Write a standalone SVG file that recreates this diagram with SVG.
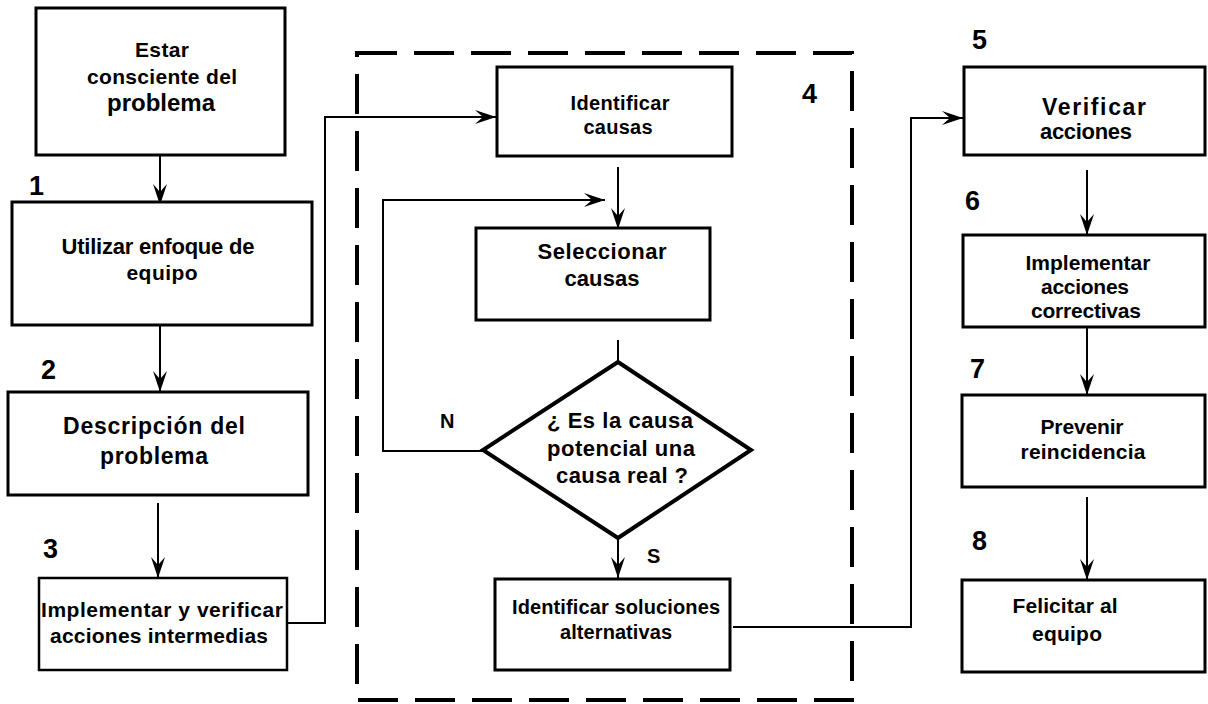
<svg xmlns="http://www.w3.org/2000/svg" width="1208" height="704" viewBox="0 0 1208 704">
  <defs>
    <marker id="arrow" viewBox="-22 -8 24 16" refX="0" refY="0" markerWidth="24" markerHeight="16" markerUnits="userSpaceOnUse" orient="auto">
      <path d="M0,0 L-21,-7 L-13,0 L-21,7 Z" fill="#000"/>
    </marker>
  </defs>
  <style>
    .box { fill: #fff; stroke: #000; stroke-width: 3; }
    .thin { stroke-width: 2.5; }
    .dec { fill: #fff; stroke: #000; stroke-width: 4; stroke-linejoin: miter; }
    .frame { fill: none; stroke: #000; stroke-width: 4; stroke-dasharray: 40 17; }
    .link { fill: none; stroke: #000; stroke-width: 2; }
    .arr { marker-end: url(#arrow); }
    text { font-family: "Liberation Sans", Arial, sans-serif; font-weight: bold; fill: #000; }
    .t { font-size: 22px; text-anchor: middle; }
    .num { font-size: 27px; }
    .lbl { font-size: 20px; }
  </style>
  <rect width="1208" height="704" fill="#fff"/>

  <!-- dashed frame around step 4 -->
  <rect class="frame" x="357" y="53" width="495" height="647"/>

  <!-- connectors -->
  <g id="connectors">
    <path class="link arr" d="M160,155 V205"/>
    <path class="link arr" d="M160,325 V392"/>
    <path class="link arr" d="M158,503 V578"/>
    <path class="link arr" d="M287,623 H325 V117 H496"/>
    <path class="link arr" d="M618,167 V229"/>
    <path class="link" d="M618,340 V362"/>
    <path class="link arr" d="M483,451 H383 V200 H605"/>
    <path class="link arr" d="M618,538 V578"/>
    <path class="link arr" d="M733,627 H911 V118 H963"/>
    <path class="link arr" d="M1087,170 V235"/>
    <path class="link arr" d="M1087,327 V395"/>
    <path class="link arr" d="M1087,497 V580"/>
  </g>

  <!-- step labels -->
  <g id="labels">
    <text class="num" x="29" y="195">1</text>
    <text class="num" x="41" y="379">2</text>
    <text class="num" x="43" y="558">3</text>
    <text class="num" x="802" y="103">4</text>
    <text class="num" x="972" y="49">5</text>
    <text class="num" x="965" y="210">6</text>
    <text class="num" x="970" y="378">7</text>
    <text class="num" x="972" y="550">8</text>
    <text class="lbl" x="440" y="428">N</text>
    <text class="lbl" x="647" y="563">S</text>
  </g>

  <g id="node-consciente">
    <rect class="box" x="36" y="8" width="249" height="147"/>
    <text class="t" x="162" y="57" style="font-size:21px" textLength="54">Estar</text>
    <text class="t" x="162" y="84" style="font-size:21px" textLength="150">consciente del</text>
    <text class="t" x="161" y="111" style="font-size:24px" textLength="108">problema</text>
  </g>

  <g id="node-equipo">
    <rect class="box" x="12" y="202" width="300" height="123"/>
    <text class="t" x="158" y="254" textLength="193">Utilizar enfoque de</text>
    <text class="t" x="162" y="280" style="font-size:21px" textLength="71">equipo</text>
  </g>

  <g id="node-descripcion">
    <rect class="box" x="8" y="392" width="300" height="103"/>
    <text class="t" x="154" y="434" style="font-size:23px" textLength="182">Descripción del</text>
    <text class="t" x="154" y="464" style="font-size:23px" textLength="108">problema</text>
  </g>

  <g id="node-intermedias">
    <rect class="box thin" x="39" y="578" width="248" height="92"/>
    <text class="t" x="162" y="617" style="font-size:21px" textLength="242">Implementar y verificar</text>
    <text class="t" x="159" y="643" style="font-size:21px" textLength="218">acciones intermedias</text>
  </g>

  <g id="node-identificar-causas">
    <rect class="box" x="497" y="67" width="235" height="89"/>
    <text class="t" x="620" y="110" style="font-size:20px" textLength="99">Identificar</text>
    <text class="t" x="618" y="134" style="font-size:20px" textLength="69">causas</text>
  </g>

  <g id="node-seleccionar">
    <rect class="box" x="476" y="228" width="234" height="92"/>
    <text class="t" x="602" y="259" textLength="129">Seleccionar</text>
    <text class="t" x="602" y="286" textLength="75">causas</text>
  </g>

  <g id="node-decision">
    <polygon class="dec" points="618,362 751,450 618,538 483,450"/>
    <text class="t" x="620" y="428" textLength="146">¿ Es la causa</text>
    <text class="t" x="621" y="456" textLength="148">potencial una</text>
    <text class="t" x="622" y="483" textLength="132">causa real ?</text>
  </g>

  <g id="node-soluciones">
    <rect class="box" x="495" y="579" width="235" height="91"/>
    <text class="t" x="616" y="614" style="font-size:20px" textLength="208">Identificar soluciones</text>
    <text class="t" x="616" y="639" style="font-size:20px" textLength="112">alternativas</text>
  </g>

  <g id="node-verificar">
    <rect class="box" x="964" y="67" width="241" height="88"/>
    <text class="t" x="1094" y="115" style="font-size:23px" textLength="104">Verificar</text>
    <text class="t" x="1086" y="139" textLength="92">acciones</text>
  </g>

  <g id="node-correctivas">
    <rect class="box" x="963" y="235" width="242" height="92"/>
    <text class="t" x="1088" y="270" style="font-size:21px" textLength="125">Implementar</text>
    <text class="t" x="1085" y="294" style="font-size:21px" textLength="88">acciones</text>
    <text class="t" x="1086" y="318" style="font-size:21px" textLength="110">correctivas</text>
  </g>

  <g id="node-reincidencia">
    <rect class="box" x="962" y="395" width="243" height="92"/>
    <text class="t" x="1082" y="434" style="font-size:21px" textLength="83">Prevenir</text>
    <text class="t" x="1083" y="459" style="font-size:21px" textLength="125">reincidencia</text>
  </g>

  <g id="node-felicitar">
    <rect class="box" x="962" y="580" width="243" height="92"/>
    <text class="t" x="1065" y="613" style="font-size:21px" textLength="105">Felicitar al</text>
    <text class="t" x="1067" y="641" style="font-size:21px" textLength="70">equipo</text>
  </g>
</svg>
